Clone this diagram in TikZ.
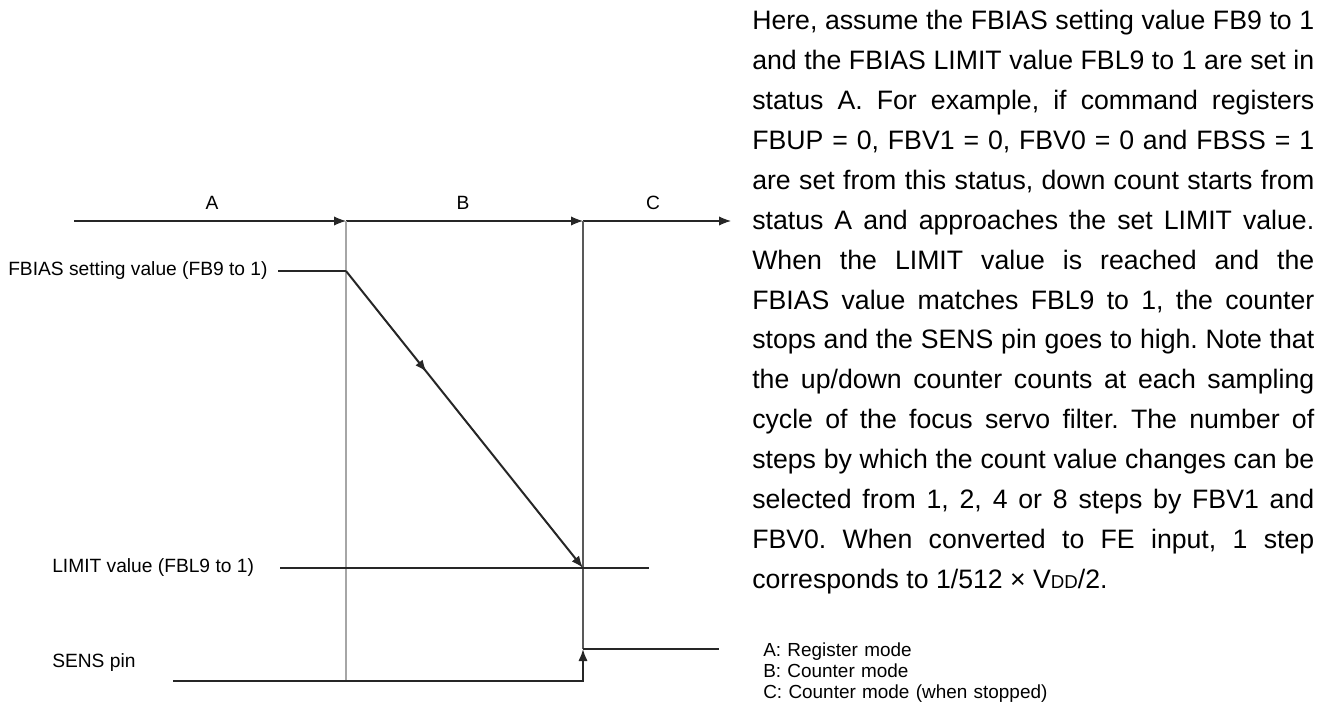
\documentclass[tikz,border=0pt]{standalone}
\usepackage{fontspec}
\setmainfont{Liberation Sans}
\frenchspacing
\usetikzlibrary{arrows.meta,decorations.markings}
\begin{document}
\begin{tikzpicture}[x=0.75pt, y=-0.75pt]
    \tikzstyle{axis} = [line width=0.8pt, draw=black!85, -{Latex[length=9pt,width=7pt]}]
    \tikzstyle{sig} = [line width=1.5pt, draw=black!85]
    \tikzstyle{tip} = [-{Latex[length=9pt,width=7pt]}]
    \tikzstyle{midtip} = [decoration={markings, mark=at position 0.34 with {\arrow{Latex[length=9pt,width=7pt]}}}, postaction={decorate}]
    \tikzstyle{lbl} = [anchor=base west, inner sep=0pt, font=\fontsize{14.4}{16}\selectfont]
    \tikzstyle{phase} = [anchor=base, inner sep=0pt, font=\fontsize{14.4}{16}\selectfont]

    \useasboundingbox (0,0) rectangle (1329,702);

    % Time axis
    \coordinate (t0) at (74,221);
    \coordinate (tA) at (346,221);
    \coordinate (tB) at (583,221);
    \coordinate (tC) at (731,221);
    \draw [axis] (t0) -- (tA);
    \draw [axis] (tA) -- (tB);
    \draw [axis] (tB) -- (tC);
    \node [phase] (phA) at (212,210) {A};
    \node [phase] (phB) at (463,210) {B};
    \node [phase] (phC) at (653,210) {C};

    % Guide lines
    \coordinate (gA) at (346,681);
    \coordinate (gB) at (583,649);
    \draw [line width=1.1pt, black!35] (tA) -- (gA);
    \draw [line width=0.8pt, black!65] (tB) -- (gB);

    % FBIAS count down
    \coordinate (fbS) at (278,271);
    \coordinate (fbK) at (346,271);
    \coordinate (limK) at (583,568);
    \draw [sig] (fbS) -- (fbK);
    \draw [sig, tip, midtip] (fbK) -- (limK);

    % LIMIT value
    \coordinate (limS) at (280,568);
    \coordinate (limE) at (649,568);
    \draw [sig] (limS) -- (limE);

    % SENS pin
    \coordinate (snS) at (173,681);
    \coordinate (snK) at (583,681);
    \coordinate (snH) at (583,649);
    \coordinate (snE) at (719,649);
    \draw [sig, tip] (snS) -- (snK) -- (snH);
    \draw [sig] (snH) -- (snE);

    % Signal names
    \node [lbl] (fbName) at (8,276) {FBIAS setting value (FB9 to 1)};
    \node [lbl] (limName) at (52,572) {LIMIT value (FBL9 to 1)};
    \node [lbl] (snName) at (52,667) {SENS pin};

    % Description
    \node [anchor=base west, inner sep=0pt, text width=421.5pt, align=justify,
           font=\fontsize{20}{29.9}\selectfont] (desc) at (752,30) {\noindent
        Here, assume the FBIAS setting value FB9 to 1\linebreak
        and the FBIAS LIMIT value FBL9 to 1 are set in\linebreak
        status A. For example, if command registers\linebreak
        FBUP = 0, FBV1 = 0, FBV0 = 0 and FBSS = 1\linebreak
        are set from this status, down count starts from\linebreak
        status A and approaches the set LIMIT value.\linebreak
        When the LIMIT value is reached and the\linebreak
        FBIAS value matches FBL9 to 1, the counter\linebreak
        stops and the SENS pin goes to high. Note that\linebreak
        the up/down counter counts at each sampling\linebreak
        cycle of the focus servo filter. The number of\linebreak
        steps by which the count value changes can be\linebreak
        selected from 1, 2, 4 or 8 steps by FBV1 and\linebreak
        FBV0. When converted to FE input, 1 step\linebreak
        corresponds to 1/512 × V{\fontsize{14}{14}\selectfont DD}/2.};

    % Legend
    \node [anchor=base west, inner sep=0pt, text width=300pt, align=left,
           font=\fontsize{14.2}{16.1}\selectfont] (legend) at (763,656) {%
        A: Register mode\\
        B: Counter mode\\
        C: Counter mode (when stopped)};
\end{tikzpicture}
\end{document}
